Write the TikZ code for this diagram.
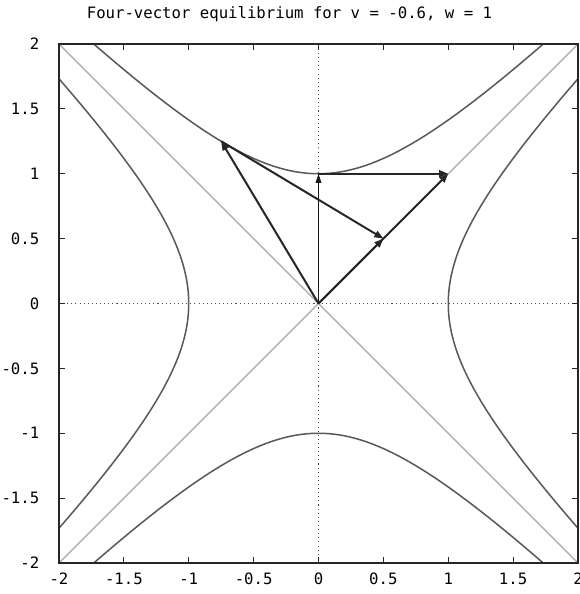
\documentclass[tikz,border=0pt]{standalone}
\usepackage{fontspec}
\setmonofont{DejaVu Sans Mono}
\usetikzlibrary{positioning, arrows.meta}

\tikzset{
    lbl/.style={font=\ttfamily\fontsize{10.3}{12}\selectfont, inner sep=0pt},
    hyp/.style={draw=black!65, line width=1pt},
    asym/.style={draw=black!35, line width=0.7pt},
    vec/.style={draw=black!85, line width=1.3pt, -{Triangle[length=2.1mm, width=1.6mm]}},
    thinvec/.style={draw=black!90, line width=0.7pt, -{Triangle[length=2.1mm, width=1.3mm]}}
}

\begin{document}
\begin{tikzpicture}[x=3cm, y=3cm]
    \useasboundingbox (-2.4547, -2.2389) rectangle (2.0077, 2.3391);

    \node [lbl] (title) at (-0.2235, 2.227) {Four-vector equilibrium for v = -0.6, w = 1};

    % asymptotes and axes
    \draw [asym] (-2, -2) -- (2, 2);
    \draw [asym] (-2, 2) -- (2, -2);
    \draw [black!70, dotted, line width=0.7pt] (-2, 0) -- (2, 0);
    \draw [black!70, dotted, line width=0.7pt] (0, -2) -- (0, 2);

    % hyperbolas
    \draw [hyp] plot [domain=-1.3170:1.3170, samples=80, smooth] ({cosh(\x)}, {sinh(\x)});
    \draw [hyp] plot [domain=-1.3170:1.3170, samples=80, smooth] ({-cosh(\x)}, {sinh(\x)});
    \draw [hyp] plot [domain=-1.3170:1.3170, samples=80, smooth] ({sinh(\x)}, {cosh(\x)});
    \draw [hyp] plot [domain=-1.3170:1.3170, samples=80, smooth] ({sinh(\x)}, {-cosh(\x)});

    % frame and ticks
    \draw [black!85, line width=1pt] (-2, -2) rectangle (2, 2);
    \foreach \t in {-1.5, -1, -0.5, 0, 0.5, 1, 1.5} {
        \draw [black!85, line width=0.8pt] (\t, -2) -- (\t, -1.955);
        \draw [black!85, line width=0.8pt] (\t, 2) -- (\t, 1.955);
        \draw [black!85, line width=0.8pt] (-2, \t) -- (-1.955, \t);
        \draw [black!85, line width=0.8pt] (2, \t) -- (1.955, \t);
    }
    \foreach \t in {-2, -1.5, -1, -0.5, 0, 0.5, 1, 1.5, 2} {
        \node [lbl, anchor=east] at (-2.15, \t) {\t};
        \node [lbl] at (\t, -2.119) {\t};
    }

    % four-vectors
    \coordinate (O) at (0, 0);
    \coordinate (up) at (0, 1);
    \coordinate (diag) at (1, 1);
    \coordinate (boost) at (-0.75, 1.25);
    \coordinate (mid) at (0.5, 0.5);

    \draw [thinvec] (O) -- (up);
    \draw [vec] (up) -- (diag);
    \draw [vec] (O) -- (diag);
    \draw [vec] (O) -- (boost);
    \draw [vec] (boost) -- (mid);
    \draw [vec] (O) -- (mid);
\end{tikzpicture}
\end{document}
